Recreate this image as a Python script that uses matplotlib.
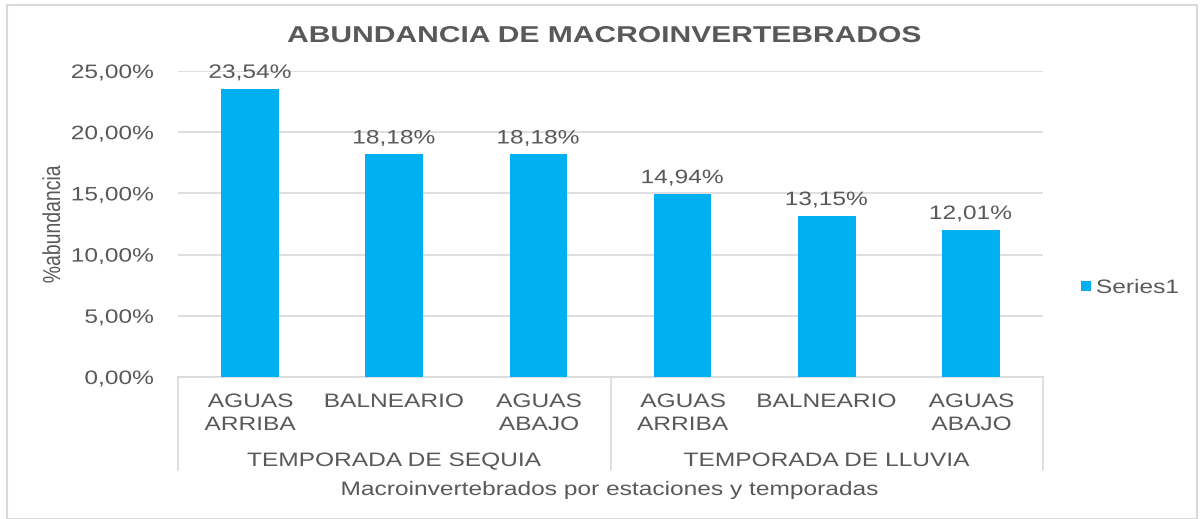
import matplotlib
matplotlib.use('Agg')
import matplotlib.pyplot as plt
from matplotlib.font_manager import FontProperties
from matplotlib.textpath import TextPath
from matplotlib.patches import PathPatch, Rectangle
from matplotlib.transforms import Affine2D, IdentityTransform

estaciones = ['AGUAS\nARRIBA', 'BALNEARIO', 'AGUAS\nABAJO',
              'AGUAS\nARRIBA', 'BALNEARIO', 'AGUAS\nABAJO']
temporadas = ['TEMPORADA DE SEQUIA', 'TEMPORADA DE LLUVIA']
abundancia = [23.54, 18.18, 18.18, 14.94, 13.15, 12.01]
yticks = [0, 5, 10, 15, 20, 25]

gray = '#595959'
line_gray = '#d9d9d9'
bar_color = '#00b0f0'
W, H = 1204, 519

fig = plt.figure(figsize=(W / 100, H / 100), dpi=100)
ax = fig.add_axes([178 / W, 1 - 377 / H, 865 / W, 306 / H])


def stext(x, y, s, size=14, ha='center', weight='normal', sx=1.26, rot=0):
    # text drawn as a path, widened like the original (x, y = baseline in pixels)
    fp = FontProperties(family='Liberation Sans', weight=weight)
    tp = TextPath((0, 0), s, size=size * 100 / 72, prop=fp)
    ext = tp.get_extents()
    if ha == 'center':
        dx = -(ext.x0 + ext.x1) / 2
    elif ha == 'right':
        dx = -ext.x1
    else:
        dx = -ext.x0
    tr = Affine2D().translate(dx, 0).rotate_deg(rot).scale(sx, 1).translate(x, y)
    fig.add_artist(PathPatch(tr.transform_path(tp), facecolor=gray, edgecolor='none',
                             transform=IdentityTransform()))


x = list(range(len(abundancia)))
bars = ax.bar(x, abundancia, width=0.4, color=bar_color, label='Series1', zorder=3)
ax.set_xlim(-0.5, len(abundancia) - 0.5)
ax.set_ylim(0, 25)
ax.set_yticks(yticks)
ax.set_yticklabels([])
ax.tick_params(axis='y', length=0)
ax.set_xticks([])
ax.grid(axis='y', color=line_gray, linewidth=1.2, zorder=0)
for s in ['top', 'right', 'left']:
    ax.spines[s].set_visible(False)
ax.spines['bottom'].set_color(line_gray)
ax.spines['bottom'].set_linewidth(1.2)

# y tick labels
for v in yticks:
    px, py = ax.transData.transform((-0.5, v))
    stext(153, py - 7, ('%.2f%%' % v).replace('.', ','), ha='right')

# data labels
for b, v in zip(bars, abundancia):
    px, py = ax.transData.transform((b.get_x() + b.get_width() / 2, v))
    stext(px, py + 11, ('%.2f%%' % v).replace('.', ','))

# category labels
for xi, lab in zip(x, estaciones):
    px, _ = ax.transData.transform((xi, 0))
    for k, line in enumerate(lab.split('\n')):
        stext(px, H - 407 - 23 * k, line)
for i, t in enumerate(temporadas):
    px, _ = ax.transData.transform((1 + 3 * i, 0))
    stext(px, H - 466, t)
for xv in [-0.5, 2.5, 5.5]:
    px, py = ax.transData.transform((xv, 0))
    fig.add_artist(plt.Line2D([px, px], [py, H - 470], color=line_gray, linewidth=1.2,
                              transform=IdentityTransform()))

stext(60, H - 224, '%abundancia', rot=90)
stext(610, H - 495, 'Macroinvertebrados por estaciones y temporadas')
stext(604, H - 42, 'ABUNDANCIA DE MACROINVERTEBRADOS', size=16.5, weight='bold', sx=1.31)

# legend
fig.add_artist(Rectangle((1081, H - 291), 10, 10, facecolor=bar_color, edgecolor='none',
                         transform=IdentityTransform()))
stext(1097, H - 293, 'Series1', ha='left')

fig.patches.append(Rectangle((7 / W, 0), 1190 / W, 1 - 5 / H,
                             transform=fig.transFigure, fill=False,
                             edgecolor=line_gray, linewidth=1.5))

fig.savefig('out.png', dpi=100, facecolor='white')
